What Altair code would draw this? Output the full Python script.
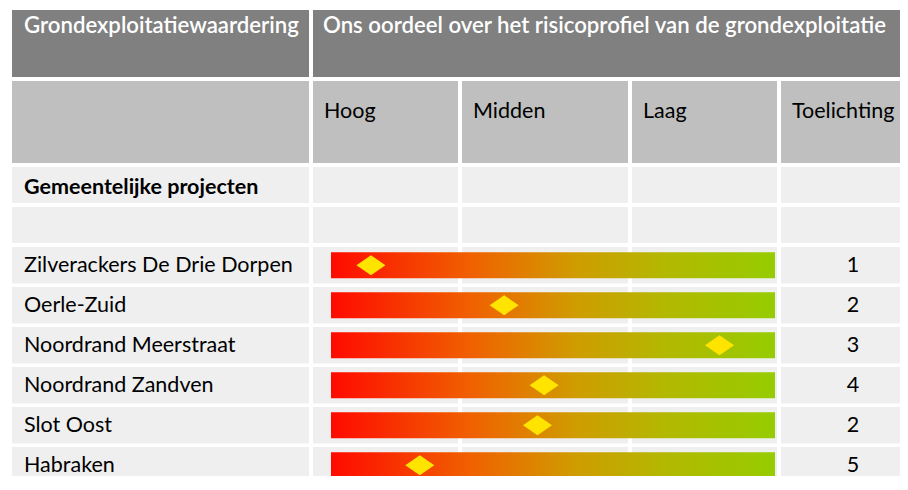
import altair as alt
import pandas as pd

# ---------------- data ----------------
projects = ["Zilverackers De Drie Dorpen", "Oerle-Zuid", "Noordrand Meerstraat",
            "Noordrand Zandven", "Slot Oost", "Habraken"]
# position of the marker on the risk bar: 0 = hoog risico (left), 100 = laag risico (right)
risk_position = [9, 39, 87.5, 48, 46.5, 20]
toelichting = ["1", "2", "3", "4", "2", "5"]

title_left = "Grondexploitatiewaardering"
title_right = "Ons oordeel over het risicoprofiel van de grondexploitatie"
column_labels = ["Hoog", "Midden", "Laag", "Toelichting"]
section_label = "Gemeentelijke projecten"

# ---------------- layout (pixels) ----------------
W, H = 892, 468
COLS = [(4, 301), (305, 450), (454, 620), (624, 769), (773, 892)]
HEAD1 = (2, 69)
HEAD2 = (73, 155)
SECTION_ROWS = [(159, 195), (199, 235)]
BAND_RANGE = [237.25, 477.25]
BAR_RANGE = [323, 767]
FONT = "Lato"
FS = 21.5
FS_HEAD = 22.2

DARK, MIDGRAY, LIGHT = "#808080", "#bfbfbf", "#efefef"

px = alt.Scale(domain=[0, W], range=[0, W], nice=False, zero=False)
py = alt.Scale(domain=[0, H], range=[0, H], nice=False, zero=False)

# structural cells
cells = [dict(x0=COLS[0][0], x1=COLS[0][1], y0=HEAD1[0], y1=HEAD1[1], fill=DARK),
         dict(x0=COLS[1][0], x1=COLS[4][1], y0=HEAD1[0], y1=HEAD1[1], fill=DARK)]
for c in COLS:
    cells.append(dict(x0=c[0], x1=c[1], y0=HEAD2[0], y1=HEAD2[1], fill=MIDGRAY))
    for r in SECTION_ROWS:
        cells.append(dict(x0=c[0], x1=c[1], y0=r[0], y1=r[1], fill=LIGHT))
cells_df = pd.DataFrame(cells)

head_cells = alt.Chart(cells_df).mark_rect().encode(
    x=alt.X("x0:Q", scale=px, axis=None), x2="x1:Q",
    y=alt.Y("y0:Q", scale=py, axis=None), y2="y1:Q",
    color=alt.Color("fill:N", scale=None),
)

# header texts
ht = pd.DataFrame([
    dict(x=16, y=25, t=title_left),
    dict(x=315, y=25, t=title_right),
])
head_text = alt.Chart(ht).mark_text(align="left", baseline="alphabetic", font=FONT,
                                    fontSize=FS_HEAD, fontWeight=600, color="white").encode(
    x=alt.X("x:Q", scale=px, axis=None), y=alt.Y("y:Q", scale=py, axis=None), text="t:N")

ct = pd.DataFrame([
    dict(x=COLS[i + 1][0] + 11, y=110, t=lab) for i, lab in enumerate(column_labels)
])
col_text = alt.Chart(ct).mark_text(align="left", baseline="alphabetic", font=FONT,
                                   fontSize=FS, color="black").encode(
    x=alt.X("x:Q", scale=px, axis=None), y=alt.Y("y:Q", scale=py, axis=None), text="t:N")

st = pd.DataFrame([dict(x=16, y=186, t=section_label)])
sec_text = alt.Chart(st).mark_text(align="left", baseline="alphabetic", font=FONT,
                                   fontSize=FS, fontWeight="bold", color="black").encode(
    x=alt.X("x:Q", scale=px, axis=None), y=alt.Y("y:Q", scale=py, axis=None), text="t:N")

# data rows
band = alt.Scale(domain=projects, range=BAND_RANGE, paddingInner=0.0875, paddingOuter=0.04375)
Yb = alt.Y("project:N", sort=projects, scale=band, axis=None)

row_cells = pd.DataFrame([dict(project=p, x0=c[0], x1=c[1]) for p in projects for c in COLS])
data_cells = alt.Chart(row_cells).mark_rect(color=LIGHT).encode(
    x=alt.X("x0:Q", scale=px, axis=None), x2="x1:Q", y=Yb)

rows = pd.DataFrame(dict(project=projects, risk=risk_position, note=toelichting,
                         lo=[0] * len(projects), hi=[100] * len(projects)))
risk_scale = alt.Scale(domain=[0, 100], range=BAR_RANGE, nice=False, zero=False)

grad = alt.Gradient(
    gradient="linear", x1=0, x2=1, y1=0, y2=0,
    stops=[alt.GradientStop(color="#ff0a00", offset=0),
           alt.GradientStop(color="#f06200", offset=0.32),
           alt.GradientStop(color="#cf9c00", offset=0.55),
           alt.GradientStop(color="#b3b800", offset=0.75),
           alt.GradientStop(color="#96cc00", offset=1)])

bars = alt.Chart(rows).mark_bar(size=26, color=grad).encode(
    x=alt.X("lo:Q", scale=risk_scale, axis=None), x2="hi:Q", y=Yb)

diamond = "M-1,0L0,-0.69L1,0L0,0.69Z"
markers = alt.Chart(rows).mark_point(shape=diamond, size=841, filled=True, opacity=1,
                                     color="#ffe400", strokeWidth=0).encode(
    x=alt.X("risk:Q", scale=risk_scale, axis=None), y=Yb)

labels = alt.Chart(rows).mark_text(align="left", baseline="middle", font=FONT,
                                   fontSize=FS, color="black", dy=1).encode(
    x=alt.value(16), y=Yb, text="project:N")

notes = alt.Chart(rows).mark_text(align="center", baseline="middle", font=FONT,
                                  fontSize=FS, color="black", dy=1).encode(
    x=alt.value(845), y=Yb, text="note:N")

chart = alt.layer(head_cells, head_text, col_text, sec_text, data_cells, bars, markers,
                  labels, notes).resolve_scale(
    x="independent", y="independent", color="independent"
).properties(
    width=W, height=H, padding=0, autosize="none", background="white"
).configure_view(stroke=None)

chart.save("out.html", embed_options={"renderer": "svg", "actions": False})
